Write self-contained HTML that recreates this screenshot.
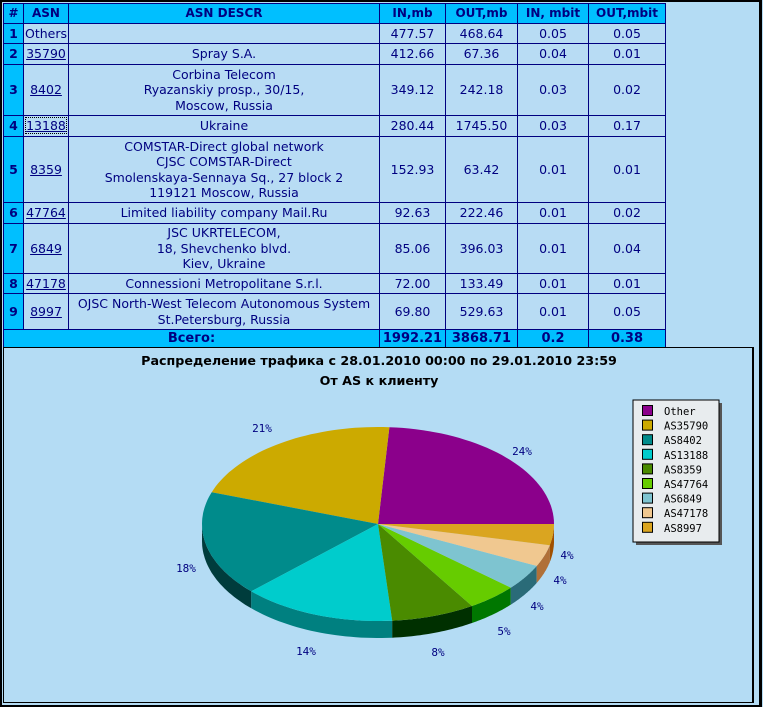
<!DOCTYPE html>
<html><head><meta charset="utf-8">
<style>
html,body{margin:0;padding:0;}
body{width:763px;height:707px;background:#b4dcf4;position:relative;overflow:hidden;font-family:"DejaVu Sans","Liberation Sans",sans-serif;}
#outer{position:absolute;left:0;top:0;width:757px;height:703px;border:2px solid #000;border-right-width:3px;background:#b4dcf4;}
table{position:absolute;left:3px;top:3px;border-collapse:collapse;table-layout:fixed;font-size:12.5px;color:#000080;}
td,th{border:1px solid #000080;padding:0;text-align:center;line-height:15.5px;background:#b8dcf4;overflow:hidden;white-space:nowrap;}
th{background:#00bfff;font-weight:bold;font-size:12px;}
td.n{background:#00bfff;font-weight:bold;}
td a{color:#000080;text-decoration:underline;}
tr.tot td{background:#00bfff;font-weight:bold;font-size:13px;}
#panel{position:absolute;left:3px;top:347px;width:748px;height:354px;border:1px solid #000;border-right:2px solid #000;background:#b4dcf4;}
.tt{position:absolute;left:0;width:750px;text-align:center;font-weight:bold;font-size:12.7px;color:#000;}
</style></head><body>
<div id="outer"></div>
<table>
<colgroup><col style="width:20px"><col style="width:45px"><col style="width:311px"><col style="width:66px"><col style="width:72px"><col style="width:71px"><col style="width:77px"></colgroup>
<tr style="height:20px"><th>#</th><th>ASN</th><th>ASN DESCR</th><th>IN,mb</th><th>OUT,mb</th><th>IN, mbit</th><th>OUT,mbit</th></tr>
<tr style="height:20px"><td class="n">1</td><td>Others</td><td></td><td>477.57</td><td>468.64</td><td>0.05</td><td>0.05</td></tr>
<tr style="height:21px"><td class="n">2</td><td><a>35790</a></td><td>Spray S.A.</td><td>412.66</td><td>67.36</td><td>0.04</td><td>0.01</td></tr>
<tr style="height:51px"><td class="n">3</td><td><a>8402</a></td><td>Corbina Telecom<br>Ryazanskiy prosp., 30/15,<br>Moscow, Russia</td><td>349.12</td><td>242.18</td><td>0.03</td><td>0.02</td></tr>
<tr style="height:21px"><td class="n">4</td><td><a style="outline:1px dotted #000">13188</a></td><td>Ukraine</td><td>280.44</td><td>1745.50</td><td>0.03</td><td>0.17</td></tr>
<tr style="height:66px"><td class="n">5</td><td><a>8359</a></td><td>COMSTAR-Direct global network<br>CJSC COMSTAR-Direct<br>Smolenskaya-Sennaya Sq., 27 block 2<br>119121 Moscow, Russia</td><td>152.93</td><td>63.42</td><td>0.01</td><td>0.01</td></tr>
<tr style="height:21px"><td class="n">6</td><td><a>47764</a></td><td>Limited liability company Mail.Ru</td><td>92.63</td><td>222.46</td><td>0.01</td><td>0.02</td></tr>
<tr style="height:50px"><td class="n">7</td><td><a>6849</a></td><td>JSC UKRTELECOM,<br>18, Shevchenko blvd.<br>Kiev, Ukraine</td><td>85.06</td><td>396.03</td><td>0.01</td><td>0.04</td></tr>
<tr style="height:20px"><td class="n">8</td><td><a>47178</a></td><td>Connessioni Metropolitane S.r.l.</td><td>72.00</td><td>133.49</td><td>0.01</td><td>0.01</td></tr>
<tr style="height:36px"><td class="n">9</td><td><a>8997</a></td><td>OJSC North-West Telecom Autonomous System<br>St.Petersburg, Russia</td><td>69.80</td><td>529.63</td><td>0.01</td><td>0.05</td></tr>
<tr class="tot" style="height:18px"><td colspan="3">Всего:</td><td>1992.21</td><td>3868.71</td><td>0.2</td><td>0.38</td></tr>
</table>
<div id="panel">
<div class="tt" style="top:5px">Распределение трафика с 28.01.2010 00:00 по 29.01.2010 23:59</div>
<div class="tt" style="top:25px">От AS к клиенту</div>
</div>
<svg id="pie" width="763" height="707" style="position:absolute;left:0;top:0" xmlns="http://www.w3.org/2000/svg"></svg>
<script>
var vals=[477.57,412.66,349.12,280.44,152.93,92.63,85.06,72.00,69.80];
var top_=["#8b008b","#ccaa00","#008b8b","#00cccc","#4a8b00","#66cc00","#7ec4d0","#f0c890","#daa520"];
var side=["#500050","#806a00","#003c3c","#008080","#003000","#007700","#2a6b78","#b07038","#a05000"];
var names=["Other","AS35790","AS8402","AS13188","AS8359","AS47764","AS6849","AS47178","AS8997"];
var cx=378,cy=524,rx=176,ry=97,d=17,tot=0;vals.forEach(function(v){tot+=v});
function P(t,dy){return [cx+rx*Math.cos(t),cy-ry*Math.sin(t)+(dy||0)];}
var s="",a=0,angs=[];
vals.forEach(function(v){var b=a+v/tot*2*Math.PI;angs.push([a,b]);a=b;});
angs.forEach(function(g,i){var a0=Math.max(g[0],Math.PI),a1=Math.min(g[1],2*Math.PI);if(a1<=a0)return;
var pts=[],k;for(k=0;k<=30;k++){pts.push(P(a0+(a1-a0)*k/30));}
for(k=30;k>=0;k--){pts.push(P(a0+(a1-a0)*k/30,d));}
s+='<polygon fill="'+side[i]+'" points="'+pts.map(function(p){return p[0].toFixed(1)+','+p[1].toFixed(1)}).join(' ')+'"/>';});
angs.forEach(function(g,i){var pts=[[cx,cy]],k;for(k=0;k<=40;k++){pts.push(P(g[0]+(g[1]-g[0])*k/40));}
s+='<polygon fill="'+top_[i]+'" points="'+pts.map(function(p){return p[0].toFixed(1)+','+p[1].toFixed(1)}).join(' ')+'"/>';});
var labs=[["24%",522,455],["21%",262,432],["18%",186,572],["14%",306,655],["8%",438,656],["5%",504,635],["4%",537,610],["4%",560,584],["4%",567,559]];
labs.forEach(function(l){s+='<text x="'+l[1]+'" y="'+l[2]+'" font-family="DejaVu Sans Mono,Liberation Mono,monospace" font-size="11" fill="#000080" text-anchor="middle">'+l[0]+'</text>';});
s+='<rect x="636" y="403" width="86" height="142" fill="#555"/><rect x="633" y="400" width="86" height="142" fill="#e8ecee" stroke="#000" stroke-width="1"/>';
names.forEach(function(n,i){var y=405+i*14.6;s+='<rect x="642.5" y="'+(y+0.5)+'" width="10" height="10" fill="'+top_[i]+'" stroke="#000"/><text x="664" y="'+(y+10)+'" font-family="DejaVu Sans Mono,Liberation Mono,monospace" font-size="10.5" fill="#000">'+n+'</text>';});
document.getElementById('pie').innerHTML=s;
</script>
</body></html>
